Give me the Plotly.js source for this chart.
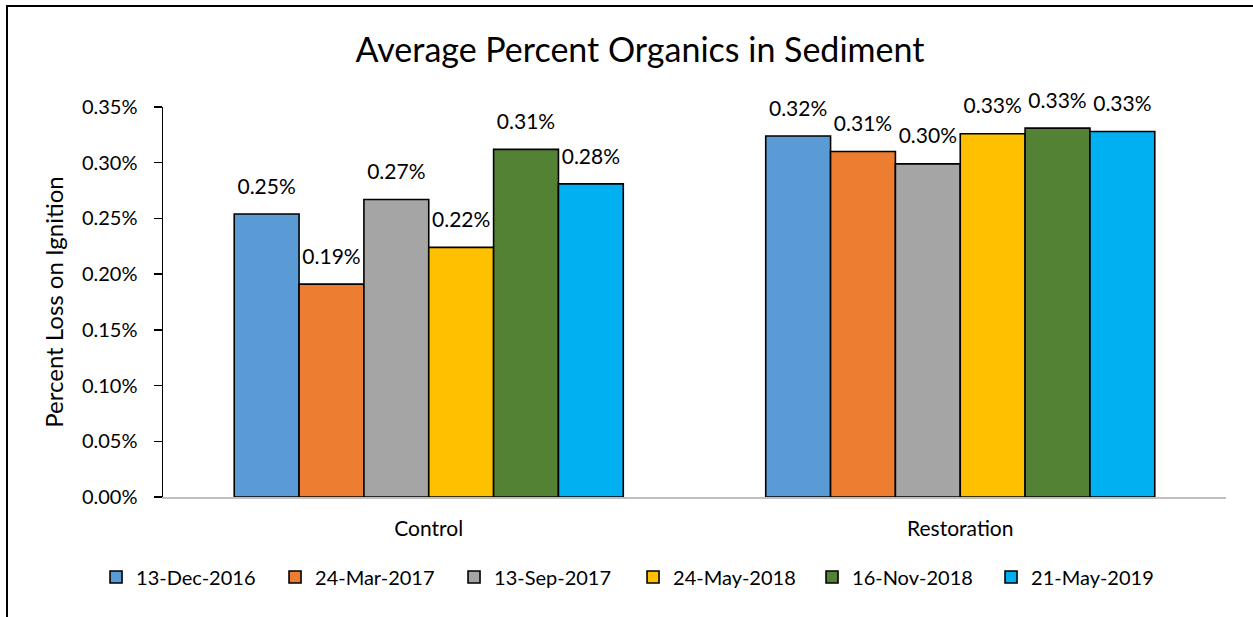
<!DOCTYPE html>
<html>
<head>
<meta charset="utf-8">
<script src="https://cdn.plot.ly/plotly-3.0.1.min.js"></script>
<style>
  html, body { margin: 0; padding: 0; background: #fff; }
  #chart { width: 1253px; height: 617px; position: absolute; left: 0; top: 0; }
  #frame { position: absolute; left: 6px; top: 5px; width: 1400px; height: 800px;
           border-left: 2px solid #000; border-top: 2px solid #000; pointer-events: none; z-index: 10; }
</style>
</head>
<body>
<div id="chart"></div>
<div id="frame"></div>
<script>
const categories = ["Control", "Restoration"];
const seriesNames = ["13-Dec-2016", "24-Mar-2017", "13-Sep-2017", "24-May-2018", "16-Nov-2018", "21-May-2019"];
const dec2016 = [0.00254, 0.00324];
const mar2017 = [0.00191, 0.00310];
const sep2017 = [0.00267, 0.00299];
const may2018 = [0.00224, 0.00326];
const nov2018 = [0.00312, 0.00331];
const may2019 = [0.00281, 0.00328];
const seriesValues = [dec2016, mar2017, sep2017, may2018, nov2018, may2019];
const colors = ["#5B9BD5", "#ED7D31", "#A5A5A5", "#FFC000", "#548235", "#00B0F0"];

const font = "Lato, 'Open Sans', sans-serif";
const yMax = 0.0035;
// label lift (in axis units) so the value labels float above the bars like the reference
const labelLift = 0.00012;

const bars = seriesNames.map((name, i) => ({
  type: "bar",
  name: name,
  x: categories,
  y: seriesValues[i],
  marker: { color: colors[i], line: { color: "#000", width: 1.6 } },
  hoverinfo: "skip"
}));

const labels = seriesNames.map((name, i) => ({
  type: "bar",
  name: name + " label",
  x: categories,
  y: seriesValues[i],
  yaxis: "y2",
  showlegend: false,
  marker: { color: "rgba(0,0,0,0)", line: { width: 0 } },
  texttemplate: "%{y:.2%}",
  textposition: "outside",
  cliponaxis: false,
  textfont: { family: font, size: 21, color: "#000" },
  hoverinfo: "skip"
}));

const layout = {
  width: 1253, height: 617,
  margin: { l: 163, r: 27, t: 107, b: 120 },
  paper_bgcolor: "rgba(0,0,0,0)",
  plot_bgcolor: "rgba(0,0,0,0)",
  barmode: "group",
  bargap: 0.268,
  bargroupgap: 0,
  font: { family: font, color: "#000" },
  title: {
    text: "Average Percent Organics in Sediment",
    font: { family: font, size: 34, color: "#000" },
    xref: "container", x: 640 / 1253, xanchor: "center",
    yref: "container", y: 1 - 50 / 617, yanchor: "middle"
  },
  xaxis: {
    showline: true, linecolor: "#BFBFBF", linewidth: 1.5,
    ticks: "", ticklabelstandoff: 12,
    tickfont: { family: font, size: 21, color: "#000" },
    showgrid: false, zeroline: false
  },
  yaxis: {
    range: [0, yMax],
    dtick: 0.0005,
    tickformat: ".2%",
    showline: true, linecolor: "#000", linewidth: 1.5,
    ticks: "outside", ticklen: 8, tickwidth: 1.5, tickcolor: "#000",
    ticklabelstandoff: 12,
    tickfont: { family: font, size: 20, color: "#000" },
    showgrid: false, zeroline: false,
    title: { text: "Percent Loss on Ignition", font: { family: font, size: 24, color: "#000" }, standoff: 11 }
  },
  yaxis2: {
    overlaying: "y",
    range: [-labelLift, yMax - labelLift],
    visible: false,
    showgrid: false, zeroline: false
  },
  showlegend: true,
  legend: {
    orientation: "h",
    xref: "paper", yref: "paper",
    x: -0.063, xanchor: "left",
    y: -0.205, yanchor: "middle",
    font: { family: font, size: 20, color: "#000" },
    itemwidth: 30,
    entrywidth: 134, entrywidthmode: "pixels",
    traceorder: "normal",
    bgcolor: "rgba(0,0,0,0)"
  }
};

Plotly.newPlot("chart", bars.concat(labels), layout, { displayModeBar: false, staticPlot: true });
</script>
</body>
</html>
